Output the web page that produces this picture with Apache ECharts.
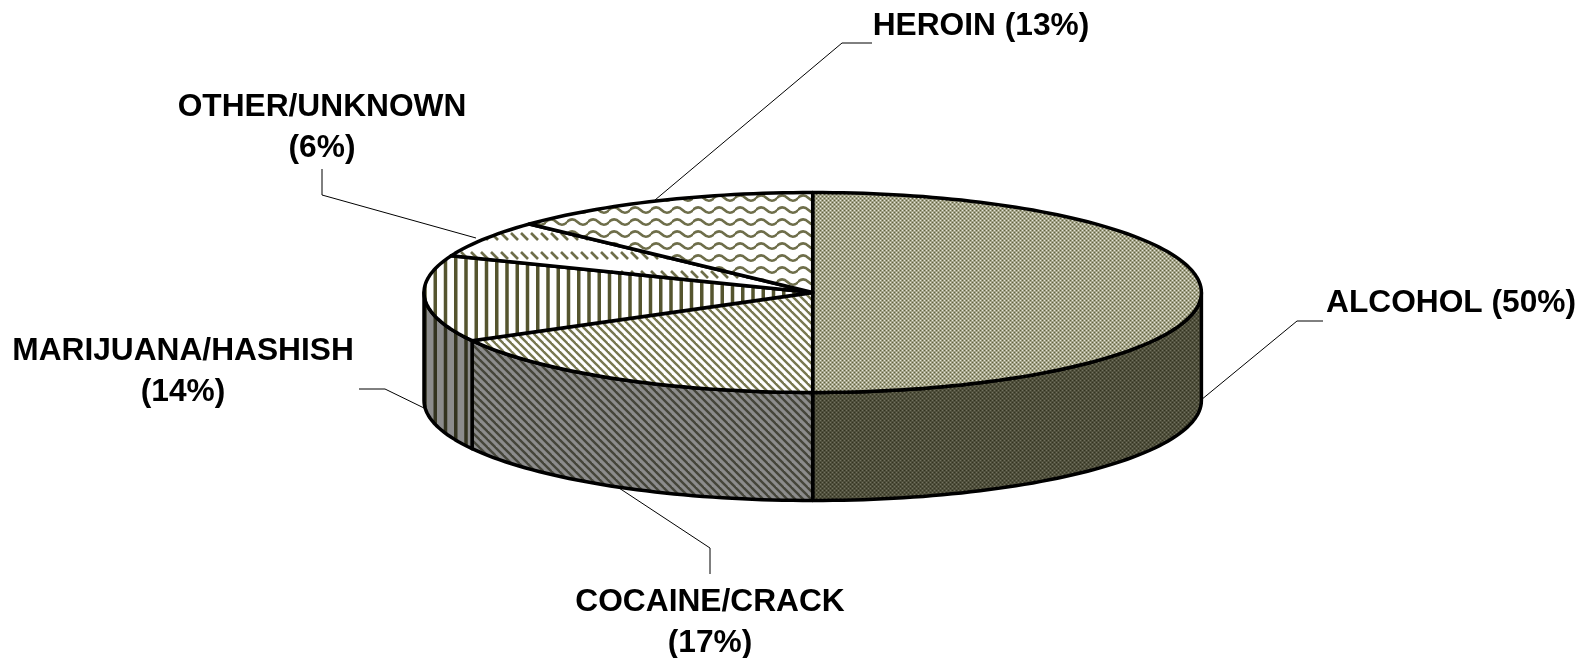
<!DOCTYPE html>
<html>
<head>
<meta charset="utf-8">
<title>Pie</title>
<style>
  html, body { margin: 0; padding: 0; background: #fff; }
  #chart { width: 1587px; height: 658px; }
</style>
<script src="https://cdn.jsdelivr.net/npm/echarts@6/dist/echarts.min.js"></script>
</head>
<body>
<div id="chart"></div>
<script>
const categories = ['ALCOHOL', 'COCAINE/CRACK', 'MARIJUANA/HASHISH', 'OTHER/UNKNOWN', 'HEROIN'];
const shares = [50, 17, 14, 6, 13];

// layout of the tilted disc, in pixels
const cx = 812.7, cy = 292.5, rx = 388.7, ry = 100, depth = 108;
const fontCss = 'bold 31.7px "Liberation Sans", Arial, sans-serif';

// labels and their leader lines
const labelText = [
  ['ALCOHOL (50%)'],
  ['COCAINE/CRACK', '(17%)'],
  ['MARIJUANA/HASHISH', '(14%)'],
  ['OTHER/UNKNOWN', '(6%)'],
  ['HEROIN (13%)']
];
const labelAt = [[1451, 303], [710, 602], [183, 351], [322, 107], [981, 26]];
const leaders = [
  [[1201, 400], [1297, 321], [1323, 321]],
  [[619, 488], [710, 548], [710, 574]],
  [[424, 408], [385, 389], [359, 389]],
  [[476, 238], [322, 195], [322, 169]],
  [[655, 200], [842, 43], [872, 43]]
];

function tile(w, h, draw) {
  const c = document.createElement('canvas');
  c.width = w;
  c.height = h;
  draw(c.getContext('2d'));
  return { image: c, repeat: 'repeat' };
}

function dither(light, mid, dark) {
  return tile(4, 4, g => {
    g.fillStyle = mid;
    g.fillRect(0, 0, 4, 4);
    g.fillStyle = light;
    g.fillRect(0, 0, 1, 1);
    g.fillRect(2, 2, 1, 1);
    g.fillStyle = dark;
    g.fillRect(2, 0, 1, 1);
    g.fillRect(0, 2, 1, 1);
  });
}

function diagonal(bg, fg) {
  return tile(8, 8, g => {
    g.fillStyle = bg;
    g.fillRect(0, 0, 8, 8);
    g.strokeStyle = fg;
    g.lineWidth = 2.4;
    [-8, 0, 8].forEach(o => {
      g.beginPath();
      g.moveTo(o - 1, -1);
      g.lineTo(o + 9, 9);
      g.stroke();
    });
  });
}

function vertical(bg, fg) {
  return tile(41, 4, g => {
    g.fillStyle = bg;
    g.fillRect(0, 0, 41, 4);
    g.fillStyle = fg;
    [3, 13.25, 23.5, 33.75].forEach(x => g.fillRect(x, 0, 3.5, 4));
  });
}

const waves = tile(21, 12, g => {
  g.fillStyle = '#fff';
  g.fillRect(0, 0, 21, 12);
  g.strokeStyle = '#6e6e4a';
  g.lineWidth = 2.5;
  [-12, 0, 12].forEach(o => {
    g.beginPath();
    g.moveTo(-1, o + 6.5);
    g.quadraticCurveTo(5, o + 0.5, 10.5, o + 6);
    g.quadraticCurveTo(16, o + 11.5, 22, o + 5.5);
    g.stroke();
  });
});

const dashes = tile(10, 19, g => {
  g.fillStyle = '#fff';
  g.fillRect(0, 0, 10, 19);
  g.strokeStyle = '#6e6e4a';
  g.lineWidth = 2.6;
  g.beginPath();
  g.moveTo(1, 5);
  g.lineTo(8, 12);
  g.stroke();
});

const topFill = [
  dither('#e6e6d8', '#a3a388', '#62623f'),
  diagonal('#fff', '#77774f'),
  vertical('#fff', '#55552f'),
  dashes,
  waves
];
const sideFill = [
  dither('#737360', '#4f4f3c', '#33331f'),
  diagonal('#8c8c8c', '#45453a'),
  vertical('#8c8c8c', '#33331f')
];

function rimPoint(deg, drop) {
  const a = deg * Math.PI / 180;
  return [cx + rx * Math.sin(a), cy - ry * Math.cos(a) + (drop || 0)];
}

function arc(from, to, drop) {
  const n = Math.max(2, Math.ceil((to - from) / 1.5));
  const pts = [];
  for (let i = 0; i <= n; i++) {
    pts.push(rimPoint(from + (to - from) * i / n, drop));
  }
  return pts;
}

const outline = { stroke: '#000', lineWidth: 3.5, lineJoin: 'round' };

function renderSlice(params, api) {
  const before = shares.slice(0, params.dataIndex).reduce((s, v) => s + v, 0);
  const total = shares.reduce((s, v) => s + v, 0);
  const start = before / total * 360;
  const end = start + api.value(0) / total * 360;
  const children = [];

  // wall, only on the front half of the disc
  const wallFrom = Math.max(start, 90);
  const wallTo = Math.min(end, 270);
  if (wallTo > wallFrom) {
    const wall = arc(wallFrom, wallTo, 0).concat(arc(wallFrom, wallTo, depth).reverse());
    children.push({
      type: 'polygon',
      shape: { points: wall },
      style: Object.assign({ fill: sideFill[params.dataIndex] }, outline)
    });
  }

  children.push({
    type: 'polygon',
    shape: { points: [[cx, cy]].concat(arc(start, end, 0)) },
    style: Object.assign({ fill: topFill[params.dataIndex] }, outline)
  });
  return { type: 'group', children: children };
}

function renderLabel(params) {
  const i = params.dataIndex;
  const children = [{
    type: 'polyline',
    shape: { points: leaders[i] },
    style: { stroke: '#000', lineWidth: 1, fill: null }
  }];
  labelText[i].forEach((line, k) => {
    children.push({
      type: 'text',
      x: labelAt[i][0],
      y: labelAt[i][1] + k * 41,
      style: {
        text: line,
        font: fontCss,
        fill: '#000',
        textAlign: 'center',
        textVerticalAlign: 'middle'
      }
    });
  });
  return { type: 'group', children: children };
}

const seriesData = categories.map((name, i) => ({ name: name, value: [shares[i]] }));

const chart = echarts.init(document.getElementById('chart'));
chart.setOption({
  animation: false,
  backgroundColor: '#fff',
  series: [
    { type: 'custom', coordinateSystem: 'none', silent: true, z: 2, renderItem: renderLabel, data: seriesData },
    { type: 'custom', coordinateSystem: 'none', silent: true, z: 3, renderItem: renderSlice, data: seriesData }
  ]
});
</script>
</body>
</html>
